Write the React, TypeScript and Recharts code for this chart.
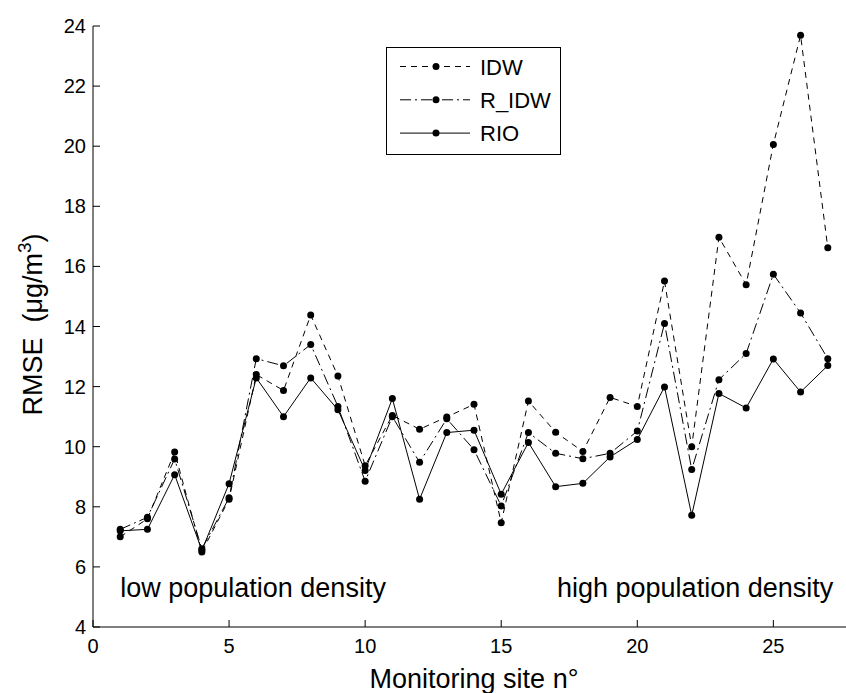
import { LineChart, Line, XAxis, YAxis, Legend, ReferenceDot } from 'recharts';

const sites = [1, 2, 3, 4, 5, 6, 7, 8, 9, 10, 11, 12, 13, 14, 15, 16, 17, 18, 19, 20, 21, 22, 23, 24, 25, 26, 27];
const idw = [7.0, 7.6, 9.82, 6.5, 8.25, 12.4, 11.87, 14.38, 12.35, 9.37, 11.04, 10.58, 10.99, 11.41, 7.47, 11.52, 10.48, 9.84, 11.64, 11.34, 15.51, 10.0, 16.97, 15.39, 20.06, 23.69, 16.62];
const rIdw = [7.25, 7.65, 9.59, 6.6, 8.3, 12.93, 12.69, 13.4, 11.34, 8.85, 11.0, 9.48, 10.93, 9.9, 8.03, 10.47, 9.78, 9.6, 9.78, 10.52, 14.1, 9.24, 12.23, 13.1, 15.74, 14.45, 12.93];
const rio = [7.2, 7.25, 9.07, 6.55, 8.77, 12.29, 11.0, 12.29, 11.23, 9.21, 11.6, 8.25, 10.47, 10.55, 8.42, 10.14, 8.67, 8.78, 9.66, 10.24, 11.99, 7.72, 11.77, 11.29, 12.92, 11.82, 12.7];

const xTicks = [0, 5, 10, 15, 20, 25];
const yTicks = [4, 6, 8, 10, 12, 14, 16, 18, 20, 22, 24];
const seriesNames = ['IDW', 'R_IDW', 'RIO'];

const data = sites.map((site, i) => ({ site, IDW: idw[i], R_IDW: rIdw[i], RIO: rio[i] }));

const dashes: Record<string, string | undefined> = {
  IDW: '6 5',
  R_IDW: '11 4 2 4',
  RIO: undefined,
};

const FONT = '"Liberation Sans", Arial, sans-serif';

// MATLAB style: ticks point into the plot box
const BottomTick = (props: any) => {
  const { x, y, payload } = props;
  return (
    <g>
      <line x1={x} y1={y} x2={x} y2={y - 7} stroke="#000" />
      <text x={x} y={y + 26} textAnchor="middle" fontSize={20} fontFamily={FONT} fill="#000">
        {payload.value}
      </text>
    </g>
  );
};

const TopTick = (props: any) => {
  const { x, y } = props;
  return <line x1={x} y1={y} x2={x} y2={y + 7} stroke="#000" />;
};

const LeftTick = (props: any) => {
  const { x, y, payload } = props;
  return (
    <g>
      <line x1={x} y1={y} x2={x + 7} y2={y} stroke="#000" />
      <text x={x - 7} y={y + 7} textAnchor="end" fontSize={20} fontFamily={FONT} fill="#000">
        {payload.value}
      </text>
    </g>
  );
};

const YTitle = (props: any) => {
  const { viewBox } = props;
  const cx = viewBox.x + 9;
  const cy = viewBox.y + viewBox.height / 2 - 2;
  return (
    <text
      x={cx}
      y={cy}
      transform={`rotate(-90, ${cx}, ${cy})`}
      textAnchor="middle"
      fontSize={27}
      fontFamily={FONT}
      fill="#000"
    >
      {'RMSE\u00A0\u00A0(\u03BCg/m'}
      <tspan dy={-11} fontSize={19}>3</tspan>
      <tspan dy={11}>)</tspan>
    </text>
  );
};

const XTitle = (props: any) => {
  const { viewBox } = props;
  return (
    <text
      x={viewBox.x + viewBox.width / 2}
      y={viewBox.y + 61}
      textAnchor="middle"
      fontSize={27}
      fontFamily={FONT}
      fill="#000"
    >
      Monitoring site n°
    </text>
  );
};

const annotation = (text: string, anchor: 'start' | 'end') => (props: any) => {
  const { viewBox } = props;
  return (
    <text x={viewBox.x} y={viewBox.y} textAnchor={anchor} fontSize={27} fontFamily={FONT} fill="#000">
      {text}
    </text>
  );
};

const LegendBox = (props: any) => {
  const payload = [...(props.payload || [])].sort(
    (a: any, b: any) => seriesNames.indexOf(a.value) - seriesNames.indexOf(b.value)
  );
  return (
    <div style={{ width: 175, height: 108, border: '1px solid #000', background: '#fff', boxSizing: 'border-box' }}>
      <svg width={173} height={106}>
        {payload.map((entry: any, i: number) => {
          const name = entry.value;
          const cy = 18.5 + i * 33.3;
          return (
            <g key={name}>
              <line x1={13} x2={83} y1={cy} y2={cy} stroke="#000" strokeDasharray={dashes[name]} />
              <circle cx={49} cy={cy} r={3.5} fill="#000" />
              <text x={93} y={cy + 8} fontSize={22} fontFamily={FONT} fill="#000">
                {name}
              </text>
            </g>
          );
        })}
      </svg>
    </div>
  );
};

export default function App() {
  return (
    <div
      style={{
        position: 'absolute',
        left: 0,
        top: 0,
        width: 846,
        height: 693,
        overflow: 'hidden',
        background: '#fff',
      }}
    >
      <LineChart width={870} height={693} data={data} margin={{ top: 26, right: 15, bottom: 36, left: 33 }}>
        <XAxis
          dataKey="site"
          type="number"
          domain={[0, 28]}
          ticks={xTicks}
          interval={0}
          height={30}
          tickSize={0}
          tickMargin={0}
          tickLine={false}
          axisLine={{ stroke: '#000' }}
          tick={<BottomTick />}
          label={{ content: <XTitle /> }}
        />
        <XAxis
          xAxisId="top"
          orientation="top"
          dataKey="site"
          type="number"
          domain={[0, 28]}
          ticks={xTicks}
          interval={0}
          height={0}
          tickSize={0}
          tickMargin={0}
          tickLine={false}
          axisLine={{ stroke: '#000' }}
          tick={<TopTick />}
        />
        <YAxis
          type="number"
          domain={[4, 24]}
          ticks={yTicks}
          interval={0}
          width={60}
          tickSize={0}
          tickMargin={0}
          tickLine={false}
          axisLine={{ stroke: '#000' }}
          tick={<LeftTick />}
          label={{ content: <YTitle /> }}
        />
        <Legend
          layout="horizontal"
          verticalAlign="middle"
          align="center"
          wrapperStyle={{ left: 386, top: 47, width: 175, height: 108 }}
          content={<LegendBox />}
        />
        <ReferenceDot
          x={1}
          y={5}
          r={0}
          fill="none"
          stroke="none"
          label={{ content: annotation('low population density', 'start') }}
        />
        <ReferenceDot
          x={27.2}
          y={5}
          r={0}
          fill="none"
          stroke="none"
          label={{ content: annotation('high population density', 'end') }}
        />
        {seriesNames.map((name) => (
          <Line
            key={name}
            dataKey={name}
            name={name}
            type="linear"
            stroke="#000"
            strokeWidth={1}
            strokeDasharray={dashes[name]}
            dot={{ r: 3.5, fill: '#000', stroke: '#000', strokeWidth: 0, strokeDasharray: '0' }}
            activeDot={false}
            isAnimationActive={false}
          />
        ))}
      </LineChart>
    </div>
  );
}
